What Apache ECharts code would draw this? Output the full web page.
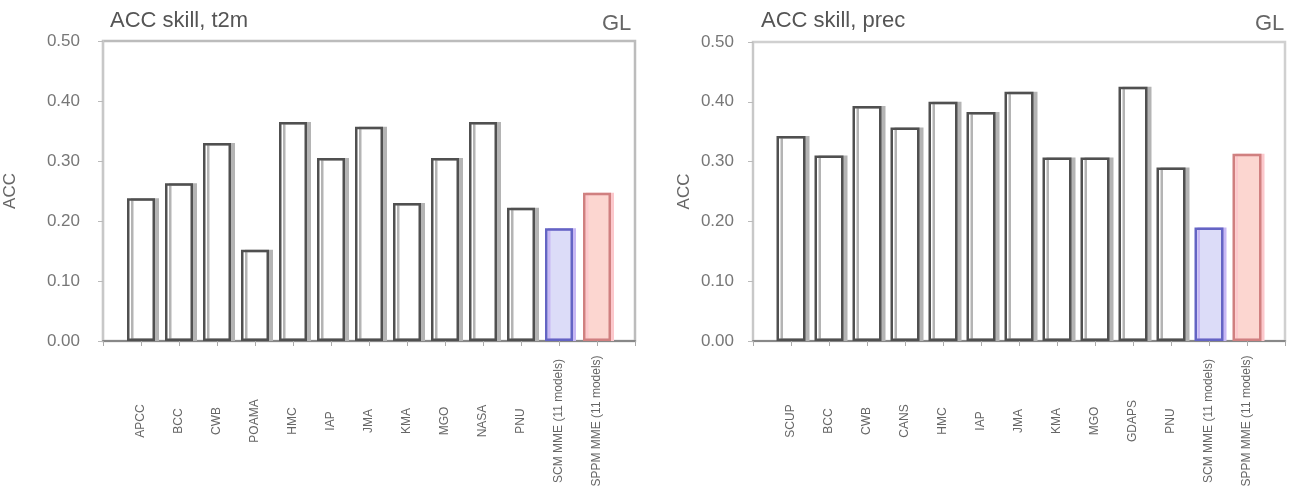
<!DOCTYPE html>
<html>
<head>
<meta charset="utf-8">
<script src="https://cdn.jsdelivr.net/npm/echarts@6/dist/echarts.min.js"></script>
<style>html,body{margin:0;padding:0;background:#fff}#c{width:1294px;height:497px}</style>
</head>
<body>
<div id="c"></div>
<script>
// ---- data ----
var catsT2m = ['APCC', 'BCC', 'CWB', 'POAMA', 'HMC', 'IAP', 'JMA', 'KMA', 'MGO', 'NASA', 'PNU', 'SCM MME (11 models)', 'SPPM MME (11 models)'];
var accT2m  = [0.238, 0.263, 0.330, 0.152, 0.365, 0.305, 0.357, 0.230, 0.305, 0.365, 0.222, 0.188, 0.247];
var catsPrec = ['SCUP', 'BCC', 'CWB', 'CANS', 'HMC', 'IAP', 'JMA', 'KMA', 'MGO', 'GDAPS', 'PNU', 'SCM MME (11 models)', 'SPPM MME (11 models)'];
var accPrec  = [0.343, 0.310, 0.393, 0.357, 0.400, 0.383, 0.417, 0.307, 0.307, 0.425, 0.290, 0.190, 0.313];
var yTicks = [0, 0.1, 0.2, 0.3, 0.4, 0.5];

var FONT = 'Liberation Sans, Arial, sans-serif';
var styleNormal = {color: '#ffffff', borderColor: '#505050', borderWidth: 2.5, shadowColor: '#b4b4b4', shadowOffsetX: 4, shadowOffsetY: 0, shadowBlur: 0};
var styleBlue = {color: '#dcdcf8', borderColor: '#6464c4', borderWidth: 2.5, shadowColor: '#c8b8f4', shadowOffsetX: 3, shadowOffsetY: 0, shadowBlur: 0};
var styleRed = {color: '#fcd6d0', borderColor: '#d08080', borderWidth: 2.5, shadowColor: '#fcc8cc', shadowOffsetX: 3, shadowOffsetY: 0, shadowBlur: 0};

function padCats(c) { return [''].concat(c).concat(['']); }
function barData(vals) {
  var d = [null];
  vals.forEach(function (v, i) {
    var st = styleNormal;
    if (i === vals.length - 2) st = styleBlue;
    if (i === vals.length - 1) st = styleRed;
    d.push({value: v, itemStyle: st});
  });
  d.push(null);
  return d;
}
function xAxis(idx, cats) {
  return {
    type: 'category', gridIndex: idx, data: padCats(cats), boundaryGap: false,
    axisLine: {show: true, lineStyle: {color: '#888', width: 2}},
    axisTick: {show: true, length: 5, lineStyle: {color: '#aaa'}},
    axisLabel: {interval: 0, rotate: 90, align: 'center', verticalAlign: 'middle', margin: 80,
      fontSize: 12, color: '#666', fontFamily: FONT},
    splitLine: {show: false}
  };
}
function yAxis(idx, gap, labelMargin) {
  return {
    type: 'value', gridIndex: idx, min: 0, max: 0.5, interval: 0.1,
    name: 'ACC', nameLocation: 'middle', nameGap: gap, nameRotate: 90,
    nameTextStyle: {fontSize: 17, color: '#666', fontFamily: FONT},
    axisLine: {show: true, lineStyle: {color: '#c8c8c8', width: 2}},
    axisTick: {show: true, length: 5, lineStyle: {color: '#bbb'}},
    axisLabel: {fontSize: 17, color: '#777', fontFamily: FONT, margin: labelMargin,
      formatter: function (v) { return v.toFixed(2); }},
    splitLine: {show: false}
  };
}

var chart = echarts.init(document.getElementById('c'));
chart.setOption({
  animation: false,
  backgroundColor: '#fff',
  title: [
    {text: 'ACC skill, t2m', left: 105, top: 5, textStyle: {fontSize: 22, fontWeight: 'normal', color: '#555', fontFamily: FONT}},
    {text: 'GL', left: 597, top: 8, textStyle: {fontSize: 22, fontWeight: 'normal', color: '#666', fontFamily: FONT}},
    {text: 'ACC skill, prec', left: 756, top: 5, textStyle: {fontSize: 22, fontWeight: 'normal', color: '#555', fontFamily: FONT}},
    {text: 'GL', left: 1250, top: 8, textStyle: {fontSize: 22, fontWeight: 'normal', color: '#666', fontFamily: FONT}}
  ],
  grid: [
    {left: 103, right: 1294 - 635, top: 41, bottom: 497 - 341, show: true, borderColor: '#bcbcbc', borderWidth: 2.5, backgroundColor: 'transparent'},
    {left: 753, right: 1294 - 1285, top: 42, bottom: 497 - 341, show: true, borderColor: '#d0d0d0', borderWidth: 2.5, backgroundColor: 'transparent'}
  ],
  xAxis: [xAxis(0, catsT2m), xAxis(1, catsPrec)],
  yAxis: [yAxis(0, 84, 23), yAxis(1, 60, 19)],
  series: [
    {type: 'bar', xAxisIndex: 0, yAxisIndex: 0, data: barData(accT2m), barWidth: 28},
    {type: 'bar', xAxisIndex: 1, yAxisIndex: 1, data: barData(accPrec), barWidth: 29}
  ]
});
</script>
</body>
</html>
